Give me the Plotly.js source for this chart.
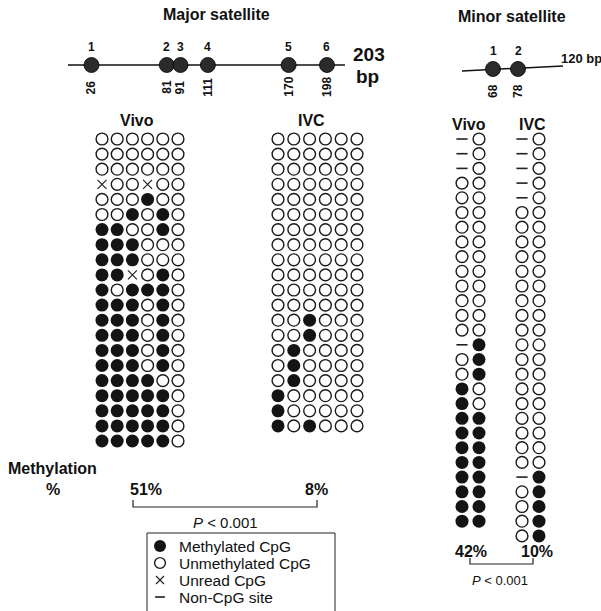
<!DOCTYPE html>
<html><head><meta charset="utf-8">
<script src="https://cdn.plot.ly/plotly-3.0.1.min.js"></script>
<style>html,body{margin:0;padding:0;background:#fff}#chart{width:601px;height:611px}</style>
</head><body><div id="chart"></div>
<script>
// ---------------- data ----------------
const majorSiteNums = ['1','2','3','4','5','6'];
const majorSiteBp = [26, 81, 91, 111, 170, 198];
const majorLengthLabel = ['203', 'bp'];
const minorSiteNums = ['1','2'];
const minorSiteBp = [68, 78];
const minorLengthLabel = '120 bp';
const panelTitles = ['Vivo', 'IVC', 'Vivo', 'IVC'];
const sectionTitles = ['Major satellite', 'Minor satellite'];
// M = methylated CpG, U = unmethylated CpG, X = unread CpG, - = non-CpG site
const vivoMajor = [
  'UUUUUU','UUUUUU','UUUUUU','XUUXUU','UUUMUU','UUMUMU','MMUUMU',
  'MMMUUU','MMMUUU','MMXUMU','MUMMMU','MMMUMU','MMMUMU','MMMUMU',
  'MMMUMU','MMMUMU','MMMMUU','MMMMMU','MMMMMU','MMMMMU','MMMMMU'
];
const ivcMajor = [
  'UUUUUU','UUUUUU','UUUUUU','UUUUUU','UUUUUU','UUUUUU','UUUUUU',
  'UUUUUU','UUUUUU','UUUUUU','UUUUUU','UUUUUU','UUMUUU','UUMUUU',
  'UMUUUU','UMUUUU','UMUUUU','MUUUUU','MUUUUU','MUMUUU'
];
const vivoMinor = [
  '-U','-U','-U','UU','UU','UU','UU','UU','UU','UU','UU','UU','UU','UU',
  '-M','UM','UM','MU','MU','MM','MM','MM','MM','MM','MM','MM','MM'
];
const ivcMinor = [
  '-U','-U','-U','-U','-U','UU','UU','UU','UU','UU','UU','UU','UU','UU',
  'UU','UU','UU','UU','UU','UU','UU','UU','UU','-M','UM','UM','UM','UM'
];
const pctLabels = ['51%', '8%', '42%', '10%'];
const pLabel = '<i>P</i> < 0.001';
const rowLabel = ['Methylation', '%'];
const legendLabels = ['Methylated CpG', 'Unmethylated CpG', 'Unread CpG', 'Non-CpG site'];
const legendCodes = ['M', 'U', 'X', '-'];

// ---------------- layout helpers ----------------
const W = 601, H = 611;
const FONT = 'Arial, "Liberation Sans", sans-serif';
const layout = {
  width: W, height: H, margin: {l:0, r:0, t:0, b:0},
  paper_bgcolor: '#fff', plot_bgcolor: 'rgba(0,0,0,0)',
  showlegend: false, hovermode: false,
  font: {family: FONT, color: '#111'},
  annotations: [], shapes: []
};
function axes(k, xr, yr) {
  const s = k === 1 ? '' : String(k);
  layout['xaxis' + s] = {domain:[0,1], range: xr, visible:false, fixedrange:true, anchor:'y' + s};
  layout['yaxis' + s] = {domain:[0,1], range: yr, visible:false, fixedrange:true, anchor:'x' + s};
  return {x: 'x' + s, y: 'y' + s};
}
// grid axes: column c and row r (1-based) map to px via origin and step
function gridAxes(k, x0, dx, y0, dy) {
  return axes(k, [1 - x0/dx, 1 + (W - x0)/dx], [1 + (H - y0)/dy, 1 - y0/dy]);
}

const base = axes(1, [0, W], [H, 0]);
// schematic axes: x in bp, y = offset (px) above the sequence line
const majAx = axes(2, [(0 - 55.9)/1.369, (W - 55.9)/1.369], [65 - H, 65]);
const minAx = axes(3, [68 - 493/2.5, 68 + (W - 493)/2.5], [69 - H, 69]);

const traces = [];
const STY = {
  M: s => ({symbol:'circle', size:s, color:'#141414', line:{width:0}}),
  U: s => ({symbol:'circle-open', size:s - 1.2, color:'#1a1a1a', line:{width:1.4}}),
  X: s => ({symbol:'x-thin-open', size:s - 4, color:'#222', line:{width:1.2}}),
  '-': s => ({symbol:'line-ew-open', size:s - 5, color:'#222', line:{width:1.6}})
};

function gridPanel(rows, ax, size) {
  legendCodes.forEach(code => {
    const xs = [], ys = [];
    rows.forEach((row, r) => {
      row.split('').forEach((ch, c) => { if (ch === code) { xs.push(c + 1); ys.push(r + 1); } });
    });
    if (xs.length) traces.push({type:'scatter', mode:'markers', x:xs, y:ys, xaxis:ax.x, yaxis:ax.y,
      marker: STY[code](size), showlegend:false, hoverinfo:'skip', cliponaxis:false});
  });
}
gridPanel(vivoMajor, gridAxes(4, 102, 15.2, 139, 15.1), 13);
gridPanel(ivcMajor, gridAxes(5, 278, 15.8, 139, 15.1), 13);
gridPanel(vivoMinor, gridAxes(6, 462, 17, 139, 14.7), 13);
gridPanel(ivcMinor, gridAxes(7, 522, 17, 139, 14.7), 13);

// legend (glyphs + labels, boxed)
const legX = 160, legY0 = 546, legDy = 17;
legendCodes.forEach((code, i) => {
  traces.push({type:'scatter', mode:'markers', x:[legX], y:[legY0 + i*legDy], xaxis:'x', yaxis:'y',
    marker: STY[code](12), showlegend:false, hoverinfo:'skip', cliponaxis:false});
  layout.annotations.push({xref:'x', yref:'y', x:legX + 17, y:legY0 + i*legDy, xanchor:'left',
    text: legendLabels[i], showarrow:false, font:{size:15.5, family:FONT, color:'#111'}});
});
layout.shapes.push({type:'rect', xref:'x', yref:'y', x0:147, x1:335, y0:533, y1:616, line:{color:'#222', width:1}});

// ---------------- schematics ----------------
function lollipop(bp, nums, ax) {
  traces.push({type:'scatter', mode:'markers', x: bp, y: bp.map(() => 0), xaxis:ax.x, yaxis:ax.y,
    marker:{symbol:'circle', size:15, color:'#2b2b2b', line:{width:0.8, color:'#000'}},
    showlegend:false, hoverinfo:'skip', cliponaxis:false});
  bp.forEach((b, i) => {
    layout.annotations.push({xref:ax.x, yref:ax.y, x:b, y:18, text:nums[i], showarrow:false,
      font:{size:12, family:FONT, weight:'bold'}});
    layout.annotations.push({xref:ax.x, yref:ax.y, x:b, y:-22, text:String(b), showarrow:false,
      textangle:-90, font:{size:12, family:FONT, weight:'bold'}});
  });
}
layout.shapes.push({type:'line', xref:'x', yref:'y', x0:68, x1:345, y0:65, y1:65, line:{color:'#111', width:1.5}, layer:'below'});
layout.shapes.push({type:'line', xref:'x', yref:'y', x0:462, x1:563, y0:71, y1:66, line:{color:'#111', width:1.5}, layer:'below'});
lollipop(majorSiteBp, majorSiteNums, majAx);
lollipop(minorSiteBp, minorSiteNums, minAx);

// ---------------- texts ----------------
function txt(x, y, t, size, bold, extra) {
  layout.annotations.push(Object.assign({xref:'x', yref:'y', x:x, y:y, text:t, showarrow:false,
    font:{size:size, family:FONT, color:'#111', weight: bold ? 'bold' : 'normal'}}, extra || {}));
}
txt(216, 14, sectionTitles[0], 16, true);
txt(512, 16, sectionTitles[1], 16, true);
txt(369, 54, majorLengthLabel[0], 19, true);
txt(367, 76, majorLengthLabel[1], 19, true);
txt(581, 58, minorLengthLabel, 13, true);
txt(137, 120, panelTitles[0], 16, true);
txt(311, 120, panelTitles[1], 16, true);
txt(469, 124, panelTitles[2], 16, true);
txt(532, 124, panelTitles[3], 16, true);
txt(52, 468, rowLabel[0], 16, true);
txt(53, 489, rowLabel[1], 16, true);
txt(146, 489, pctLabels[0], 16, true);
txt(316, 489, pctLabels[1], 16, true);
txt(471, 551, pctLabels[2], 16, true);
txt(537, 551, pctLabels[3], 16, true);
txt(225, 522, pLabel, 15, false);
txt(500, 580, pLabel, 13, false);

// brackets
layout.shapes.push({type:'path', xref:'x', yref:'y', path:'M133,500 V507 H317 V500', line:{color:'#222', width:1.2}});
layout.shapes.push({type:'path', xref:'x', yref:'y', path:'M470,558 V564 H533 V558', line:{color:'#222', width:1.2}});

Plotly.newPlot('chart', traces, layout, {staticPlot:true, displayModeBar:false});
</script>
</body></html>
